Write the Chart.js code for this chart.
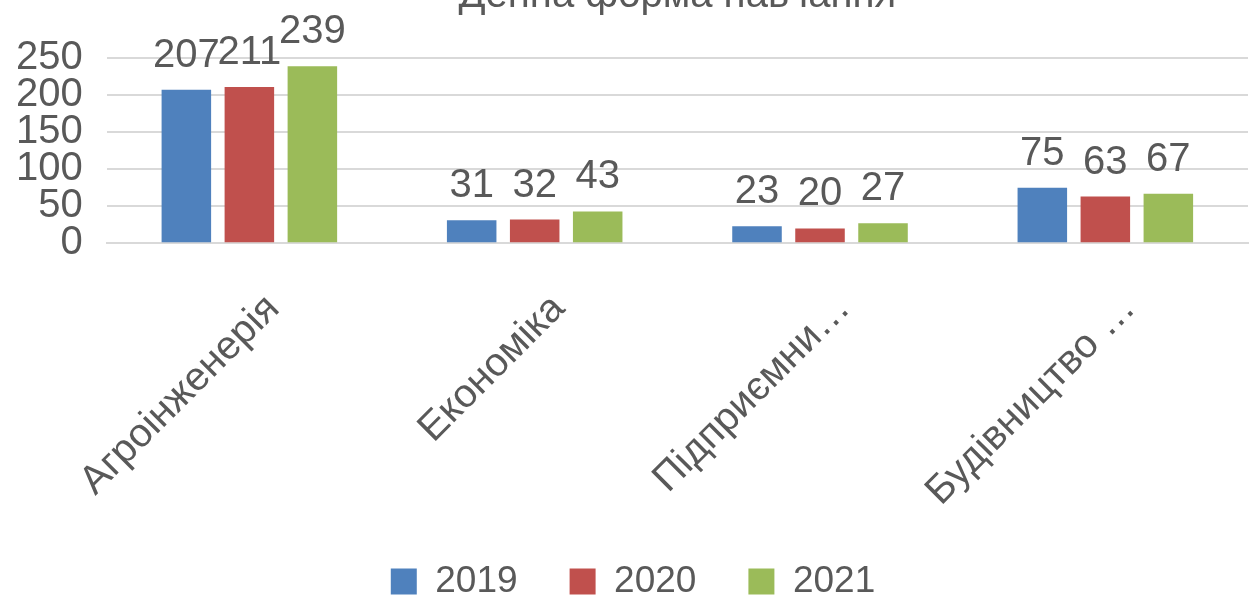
<!DOCTYPE html>
<html>
<head>
<meta charset="utf-8">
<script src="https://cdn.jsdelivr.net/npm/chart.js@4.4.1/dist/chart.umd.min.js"></script>
<style>
  html, body { margin: 0; padding: 0; background: #fff; overflow: hidden; }
  #wrap { position: relative; width: 1256px; height: 610px; }
</style>
</head>
<body>
<div id="wrap"><canvas id="chart"></canvas></div>
<script>
// дані з діаграми
const chartTitle = 'Денна форма навчання';
const categories = ['Агроінженерія', 'Економіка', 'Підприємни\u2026', 'Будівництво \u2026'];
const years = ['2019', '2020', '2021'];
const values2019 = [207, 31, 23, 75];
const values2020 = [211, 32, 20, 63];
const values2021 = [239, 43, 27, 67];
const yTicks = [0, 50, 100, 150, 200, 250];

const colors = ['#4F81BD', '#C0504D', '#9BBB59'];
const textColor = '#595959';
const fontFamily = "'Liberation Sans', Arial, Helvetica, sans-serif";

// підписи значень над стовпчиками
const valueLabels = {
    id: 'valueLabels',
    afterDatasetsDraw(chart) {
        const ctx = chart.ctx;
        ctx.save();
        ctx.font = '40px ' + fontFamily;
        ctx.fillStyle = textColor;
        ctx.textAlign = 'center';
        ctx.textBaseline = 'alphabetic';
        chart.data.datasets.forEach((ds, i) => {
            const meta = chart.getDatasetMeta(i);
            meta.data.forEach((bar, j) => {
                ctx.fillText(String(ds.data[j]), bar.x, bar.y - 23);
            });
        });
        ctx.restore();
    }
};

// заголовок по центру області графіка
const areaTitle = {
    id: 'areaTitle',
    afterDraw(chart) {
        const ctx = chart.ctx;
        const area = chart.chartArea;
        ctx.save();
        ctx.font = '40px ' + fontFamily;
        ctx.fillStyle = textColor;
        ctx.textAlign = 'center';
        ctx.textBaseline = 'alphabetic';
        ctx.fillText(chartTitle, (area.left + area.right) / 2, 7);
        ctx.restore();
    }
};

const datasets = [values2019, values2020, values2021].map((vals, i) => ({
    label: years[i],
    data: vals,
    backgroundColor: colors[i],
    borderWidth: 0,
    categoryPercentage: 0.6625,
    barPercentage: 0.786
}));

const ctx = document.getElementById('chart').getContext('2d');
new Chart(ctx, {
    type: 'bar',
    data: {
        labels: categories,
        datasets: datasets
    },
    options: {
        responsive: true,
        maintainAspectRatio: false,
        animation: false,
        layout: {
            padding: { top: 58, right: 8, left: 18, bottom: 0 }
        },
        plugins: {
            title: { display: false },
            tooltip: { enabled: false },
            legend: {
                position: 'bottom',
                labels: {
                    boxWidth: 26,
                    boxHeight: 26,
                    padding: 52,
                    color: textColor,
                    font: { size: 37, family: fontFamily }
                }
            }
        },
        scales: {
            x: {
                grid: { display: false, drawTicks: false },
                border: { display: true, color: '#D9D9D9', width: 2 },
                ticks: {
                    autoSkip: false,
                    minRotation: 45,
                    maxRotation: 45,
                    labelOffset: 24,
                    padding: 42,
                    color: textColor,
                    font: { size: 40, family: fontFamily }
                },
                afterFit(scale) { scale.height = 267.7; }
            },
            y: {
                min: 0,
                max: 250,
                afterBuildTicks(scale) {
                    scale.ticks = yTicks.map(v => ({ value: v }));
                },
                grid: { color: '#D9D9D9', lineWidth: 2, drawTicks: false },
                border: { display: false },
                ticks: {
                    autoSkip: false,
                    padding: 24,
                    color: textColor,
                    font: { size: 40, family: fontFamily }
                },
                afterFit(scale) { scale.width = 88.7; }
            }
        }
    },
    plugins: [valueLabels, areaTitle]
});
</script>
</body>
</html>
